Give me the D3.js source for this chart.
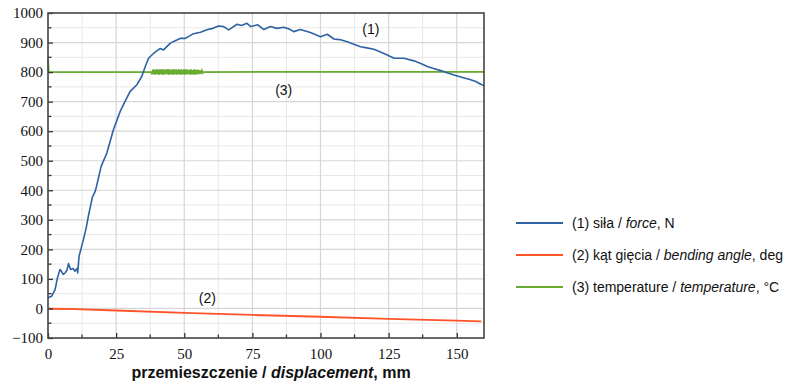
<!DOCTYPE html>
<html>
<head>
<meta charset="utf-8">
<script src="https://cdn.jsdelivr.net/npm/d3@7"></script>
<style>
  body { margin: 0; background: #fff; }
  svg { display: block; }
</style>
</head>
<body>
<svg id="chart"></svg>
<script>
// displacement (mm) / force (N)
const forceX = [0, 1.3, 2.6, 3.5, 4.4, 5.0, 5.6, 6.25, 7.0, 7.5, 8.3, 9.3, 9.9, 10.8, 10.9, 11.4, 12.2, 13, 14, 14.8, 16.3, 17.3, 17.8, 19.5, 21.6, 24, 26.5, 28.5, 30.1, 32.6, 34.4, 35.7, 36.9, 38.7, 41.2, 42.4, 44.9, 46.5, 48.5, 50.4, 53.4, 56, 58.3, 60.5, 62.6, 64.5, 66.3, 69.4, 71, 73, 74.4, 77, 79.2, 81.6, 84, 86.5, 88.5, 90.2, 92.6, 96.3, 100, 102.5, 104.9, 107, 109.8, 112, 114.7, 117, 119.6, 122, 124.5, 127, 130.6, 134.3, 137, 139.2, 141.5, 144.1, 147, 150.2, 152.5, 155.1, 157, 158.8, 160];
const forceY = [36, 41, 64, 105, 132, 125, 115, 120, 130, 152, 132, 135, 126, 137, 120, 177, 205, 233, 272, 312, 377, 396, 413, 481, 526, 605, 667, 705, 734, 757, 785, 819, 847, 863, 880, 875, 898, 905, 914, 914, 930, 935, 943, 948, 956, 954, 943, 962, 958, 965, 954, 960, 944, 954, 948, 952, 946, 937, 944, 934, 920, 928, 912, 910, 903, 895, 886, 882, 877, 868, 858, 847, 847, 838, 828, 819, 812, 805, 796, 787, 781, 774, 768, 759, 755];

// bending angle (deg)
const angleX = [0, 10, 25, 50, 75, 100, 125, 150, 159];
const angleY = [-1, -2, -7, -15, -22, -28, -35, -41, -44];

// temperature (°C): start spike, then flat 800 with a noisy band ~38..57 mm
const tempX = [0, 0.3, 1, 38, 38.2, 38.5, 38.7, 39, 39.2, 39.5, 39.7, 40, 40.2, 40.5, 40.7, 41, 41.2, 41.5, 41.7, 42, 42.2, 42.5, 42.7, 43, 43.2, 43.5, 43.7, 44, 44.2, 44.5, 44.7, 45, 45.2, 45.5, 45.7, 46, 46.2, 46.5, 46.7, 47, 47.2, 47.5, 47.7, 48, 48.2, 48.5, 48.7, 49, 49.2, 49.5, 49.7, 50, 50.2, 50.5, 50.7, 51, 51.2, 51.5, 51.7, 52, 52.2, 52.5, 52.7, 53, 53.2, 53.5, 53.7, 54, 54.2, 54.5, 54.7, 55, 55.2, 55.5, 55.7, 56, 56.2, 56.5, 56.8, 57, 100, 160];
const tempY = [845, 800, 800, 800, 792, 808, 793, 809, 791, 807, 794, 810, 792, 808, 791, 809, 793, 808, 792, 810, 791, 807, 793, 809, 792, 808, 794, 810, 791, 808, 792, 809, 793, 807, 791, 810, 792, 808, 793, 809, 791, 807, 794, 810, 792, 808, 791, 809, 793, 807, 792, 810, 791, 808, 793, 809, 792, 807, 794, 808, 791, 809, 793, 807, 792, 808, 791, 809, 793, 807, 792, 808, 794, 807, 793, 806, 795, 805, 797, 800, 801, 801];

const xTicks = [0, 25, 50, 75, 100, 125, 150];
const yTicks = [-100, 0, 100, 200, 300, 400, 500, 600, 700, 800, 900, 1000];

const legendLabels = [
  ["(1) siła / ", "force", ", N"],
  ["(2) kąt gięcia / ", "bending angle", ", deg"],
  ["(3) temperature / ", "temperature", ", °C"]
];
const colors = ["#2d62a3", "#ff5428", "#6aab32"];

const W = 806, H = 385;
const margin = {top: 13, left: 48};
const iw = 436, ih = 325;

const svg = d3.select("#chart").attr("width", W).attr("height", H);
const chart = svg.append("g").attr("transform", `translate(${margin.left},${margin.top})`);

const x = d3.scaleLinear().domain([0, 160]).range([0, iw]);
const y = d3.scaleLinear().domain([-100, 1000]).range([ih, 0]);

// grid: minor first, major on top
const minorX = d3.range(12.5, 160, 25);
const minorY = d3.range(-50, 1000, 100);
chart.append("g").selectAll("line").data(minorX).join("line")
  .attr("x1", d => x(d)).attr("x2", d => x(d)).attr("y1", 0).attr("y2", ih)
  .attr("stroke", "#e8e8e8").attr("stroke-width", 1);
chart.append("g").selectAll("line").data(minorY).join("line")
  .attr("y1", d => y(d)).attr("y2", d => y(d)).attr("x1", 0).attr("x2", iw)
  .attr("stroke", "#e8e8e8").attr("stroke-width", 1);
chart.append("g").selectAll("line").data(xTicks.slice(1)).join("line")
  .attr("x1", d => x(d)).attr("x2", d => x(d)).attr("y1", 0).attr("y2", ih)
  .attr("stroke", "#d6d6d6").attr("stroke-width", 1.2);
chart.append("g").selectAll("line").data(yTicks.slice(1, -1)).join("line")
  .attr("y1", d => y(d)).attr("y2", d => y(d)).attr("x1", 0).attr("x2", iw)
  .attr("stroke", "#d6d6d6").attr("stroke-width", 1.2);

// series
const line = d3.line().x(d => x(d[0])).y(d => y(d[1]));
chart.append("path").datum(d3.zip(tempX, tempY)).attr("d", line)
  .attr("fill", "none").attr("stroke", colors[2]).attr("stroke-width", 1.8);
chart.append("path").datum(d3.zip(angleX, angleY)).attr("d", line)
  .attr("fill", "none").attr("stroke", colors[1]).attr("stroke-width", 1.8);
chart.append("path").datum(d3.zip(forceX, forceY)).attr("d", line)
  .attr("fill", "none").attr("stroke", colors[0]).attr("stroke-width", 1.6)
  .attr("stroke-linejoin", "round");

// axes
const xAxis = d3.axisBottom(x).tickValues(xTicks).tickSize(-5).tickPadding(10).tickFormat(d3.format("d"));
const yAxis = d3.axisLeft(y).tickValues(yTicks).tickSize(-5).tickPadding(5)
  .tickFormat(d => d < 0 ? "\u2212" + Math.abs(d) : d);
const xg = chart.append("g").attr("transform", `translate(0,${ih})`).call(xAxis);
const yg = chart.append("g").call(yAxis);
[xg, yg].forEach(g => {
  g.select(".domain").remove();
  g.selectAll("line").attr("stroke", "#333").attr("stroke-width", 1.3);
  g.selectAll("text").attr("font-family", "Liberation Serif, serif").attr("font-size", 15).attr("fill", "#111");
});
chart.append("g").selectAll("line").data(minorX).join("line")
  .attr("x1", d => x(d)).attr("x2", d => x(d)).attr("y1", ih).attr("y2", ih - 3.5)
  .attr("stroke", "#333").attr("stroke-width", 1.3);
chart.append("g").selectAll("line").data(minorY).join("line")
  .attr("y1", d => y(d)).attr("y2", d => y(d)).attr("x1", 0).attr("x2", 3.5)
  .attr("stroke", "#333").attr("stroke-width", 1.3);

// frame
chart.append("rect").attr("width", iw).attr("height", ih)
  .attr("fill", "none").attr("stroke", "#444").attr("stroke-width", 1.6);

// curve labels
const ann = [["(1)", 118.5, 929], ["(3)", 86.5, 722], ["(2)", 58.5, 20]];
chart.append("g").selectAll("text").data(ann).join("text")
  .attr("x", d => x(d[1])).attr("y", d => y(d[2]))
  .attr("text-anchor", "middle")
  .attr("font-family", "Liberation Sans, Arial, sans-serif").attr("font-size", 14)
  .attr("fill", "#111").text(d => d[0]);

// x axis title
const title = svg.append("text").attr("x", 271).attr("y", 378)
  .attr("text-anchor", "middle")
  .attr("font-family", "Liberation Sans, Arial, sans-serif").attr("font-size", 16)
  .attr("font-weight", "bold").attr("fill", "#111");
title.append("tspan").text("przemieszczenie / ");
title.append("tspan").attr("font-style", "italic").text("displacement");
title.append("tspan").text(", mm");

// legend
const lg = svg.append("g").attr("transform", "translate(516,223)");
const items = lg.selectAll("g").data(legendLabels).join("g")
  .attr("transform", (d, i) => `translate(0,${i * 32})`);
items.append("line").attr("x1", 0).attr("x2", 47).attr("y1", 0).attr("y2", 0)
  .attr("stroke", (d, i) => colors[i]).attr("stroke-width", 2);
const lt = items.append("text").attr("x", 56).attr("y", 5)
  .attr("font-family", "Liberation Sans, Arial, sans-serif").attr("font-size", 14)
  .attr("fill", "#111");
lt.append("tspan").text(d => d[0]);
lt.append("tspan").attr("font-style", "italic").text(d => d[1]);
lt.append("tspan").text(d => d[2]);
</script>
</body>
</html>
